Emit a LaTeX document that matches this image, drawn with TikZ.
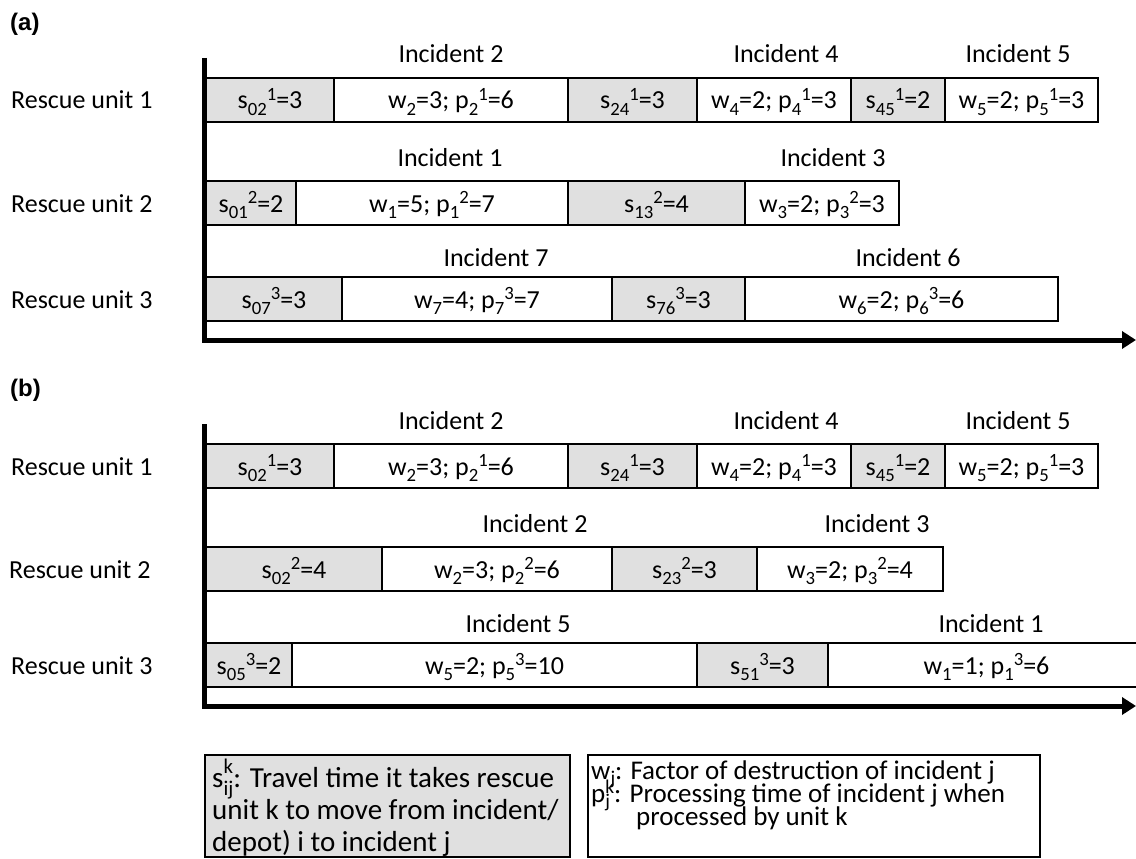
\documentclass[tikz,border=0pt]{standalone}
\usepackage{fontspec}
\setmainfont{Carlito}
\newfontfamily\labfont{Liberation Sans}
\usetikzlibrary{arrows.meta}
\definecolor{sgray}{HTML}{E0E0E0}
\makeatletter
\newcommand\idxsz{\fontsize{\fpeval{0.72*\f@size}}{0}\selectfont}
\makeatother
\newcommand\mainsz{\fontsize{26}{30}\selectfont}
\newcommand\legsz{\fontsize{29}{32}\selectfont}
\newcommand\legbsz{\fontsize{27}{23}\selectfont}
\newcommand\ssub[1]{\raisebox{-0.24em}{\idxsz #1}}
\newcommand\ssup[1]{\raisebox{0.34em}{\idxsz #1}}
\newcommand\tsub[1]{\raisebox{-0.3em}{\idxsz #1}}
\newcommand\tsup[1]{\raisebox{0.46em}{\idxsz #1}}
\newcommand\rsub[1]{\raisebox{-0.2em}{\idxsz #1}}
\newcommand\rsup[1]{\raisebox{0.3em}{\idxsz #1}}
\newsavebox\subbx
\newsavebox\supbx
\newcommand\stackit{\ifdim\wd\subbx>\wd\supbx \rlap{\usebox\supbx}\usebox\subbx
  \else \rlap{\usebox\subbx}\usebox\supbx\fi}
\newcommand\sstack[2]{\sbox\subbx{\tsub{#1}}\sbox\supbx{\tsup{#2}}\stackit}
\newcommand\rstack[2]{\sbox\subbx{\rsub{#1}}\sbox\supbx{\rsup{#2}}\stackit}
\newcommand\seg[6]{\node[#1, minimum width={(#4-#3)*1pt}] (#2) at ({(#3+#4)/2},#5) {#6};}
\begin{document}
\begin{tikzpicture}[x=1pt,y=-1pt,
  seg/.style={draw=black, line width=2.4pt, minimum height=44pt, inner sep=0pt, outer sep=0pt,
    font=\mainsz, text height=20pt, text depth=2pt},
  sseg/.style={seg, fill=sgray},
  wseg/.style={seg, fill=white},
  inclab/.style={font=\mainsz, inner sep=0pt, anchor=base},
  unitlab/.style={font=\mainsz, inner sep=0pt, anchor=base west},
  panlab/.style={font=\labfont\bfseries\fontsize{24}{28}\selectfont, inner sep=0pt, anchor=west},
  axisline/.style={line width=5pt, line join=miter, -{Triangle[length=14pt,width=17pt]}},
  legbox/.style={draw=black, line width=2.4pt, inner sep=0pt, outer sep=0pt},
  legtxt/.style={inner sep=0pt, anchor=base west},
  legA/.style={legtxt, font=\legsz, text height=20pt, text depth=6pt},
  legB/.style={legtxt, font=\legbsz, text height=15pt, text depth=4pt},
]
\useasboundingbox (0,0) rectangle (1136,859);
\fill[white] (0,0) rectangle (1136,859);

% ---------- panel (a)
\node[panlab] (pa) at (10,24) {(a)};
\node[unitlab] (ua1) at (11,109) {Rescue unit 1};
\node[unitlab] (ua2) at (11,212) {Rescue unit 2};
\node[unitlab] (ua3) at (11,308) {Rescue unit 3};

\coordinate (aytop) at (204,58);
\coordinate (axend) at (1136,340);
\draw[axisline] (aytop) |- (axend);

\seg{sseg}{a11}{206}{334}{100}{s\ssub{02}\ssup{1}=3}
\seg{wseg}{a12}{334}{568}{100}{w\ssub{2}=3; p\ssub{2}\ssup{1}=6}
\seg{sseg}{a13}{568}{697}{100}{s\ssub{24}\ssup{1}=3}
\seg{wseg}{a14}{697}{851}{100}{w\ssub{4}=2; p\ssub{4}\ssup{1}=3}
\seg{sseg}{a15}{851}{945}{100}{s\ssub{45}\ssup{1}=2}
\seg{wseg}{a16}{945}{1098}{100}{w\ssub{5}=2; p\ssub{5}\ssup{1}=3}

\seg{sseg}{a21}{206}{296}{203}{s\ssub{01}\ssup{2}=2}
\seg{wseg}{a22}{296}{568}{203}{w\ssub{1}=5; p\ssub{1}\ssup{2}=7}
\seg{sseg}{a23}{568}{745}{203}{s\ssub{13}\ssup{2}=4}
\seg{wseg}{a24}{745}{899}{203}{w\ssub{3}=2; p\ssub{3}\ssup{2}=3}

\seg{sseg}{a31}{206}{342}{299}{s\ssub{07}\ssup{3}=3}
\seg{wseg}{a32}{342}{612}{299}{w\ssub{7}=4; p\ssub{7}\ssup{3}=7}
\seg{sseg}{a33}{612}{745}{299}{s\ssub{76}\ssup{3}=3}
\seg{wseg}{a34}{745}{1058}{299}{w\ssub{6}=2; p\ssub{6}\ssup{3}=6}

\node[inclab] (ia2) at (451,63) {Incident 2};
\node[inclab] (ia4) at (786,63) {Incident 4};
\node[inclab] (ia5) at (1018,63) {Incident 5};
\node[inclab] (ia1) at (450,166) {Incident 1};
\node[inclab] (ia3) at (833,166) {Incident 3};
\node[inclab] (ia7) at (496,266) {Incident 7};
\node[inclab] (ia6) at (908,266) {Incident 6};

% ---------- panel (b)
\node[panlab] (pb) at (10,390) {(b)};
\node[unitlab] (ub1) at (11,475) {Rescue unit 1};
\node[unitlab] (ub2) at (9,578) {Rescue unit 2};
\node[unitlab] (ub3) at (11,674) {Rescue unit 3};

\coordinate (bytop) at (204,424);
\coordinate (bxend) at (1136,706);
\draw[axisline] (bytop) |- (bxend);

\seg{sseg}{b11}{206}{334}{466}{s\ssub{02}\ssup{1}=3}
\seg{wseg}{b12}{334}{568}{466}{w\ssub{2}=3; p\ssub{2}\ssup{1}=6}
\seg{sseg}{b13}{568}{697}{466}{s\ssub{24}\ssup{1}=3}
\seg{wseg}{b14}{697}{851}{466}{w\ssub{4}=2; p\ssub{4}\ssup{1}=3}
\seg{sseg}{b15}{851}{945}{466}{s\ssub{45}\ssup{1}=2}
\seg{wseg}{b16}{945}{1098}{466}{w\ssub{5}=2; p\ssub{5}\ssup{1}=3}

\seg{sseg}{b21}{206}{382}{569}{s\ssub{02}\ssup{2}=4}
\seg{wseg}{b22}{382}{612}{569}{w\ssub{2}=3; p\ssub{2}\ssup{2}=6}
\seg{sseg}{b23}{612}{757}{569}{s\ssub{23}\ssup{2}=3}
\seg{wseg}{b24}{757}{943}{569}{w\ssub{3}=2; p\ssub{3}\ssup{2}=4}

\seg{sseg}{b31}{206}{292}{665}{s\ssub{05}\ssup{3}=2}
\seg{wseg}{b32}{292}{697}{665}{w\ssub{5}=2; p\ssub{5}\ssup{3}=10}
\seg{sseg}{b33}{697}{828}{665}{s\ssub{51}\ssup{3}=3}
\seg{wseg}{b34}{828}{1145}{665}{w\ssub{1}=1; p\ssub{1}\ssup{3}=6}

\node[inclab] (ib2) at (451,429) {Incident 2};
\node[inclab] (ib4) at (786,429) {Incident 4};
\node[inclab] (ib5) at (1018,429) {Incident 5};
\node[inclab] (ib2b) at (535,532) {Incident 2};
\node[inclab] (ib3) at (877,532) {Incident 3};
\node[inclab] (ib5b) at (518,632) {Incident 5};
\node[inclab] (ib1) at (991,632) {Incident 1};

% ---------- legend
\node[legbox, fill=sgray, minimum width=365pt, minimum height=102pt] (legs) at (387.5,806) {};
\node[legA] (ls1) at (212,787) {s\sstack{ij}{k}: Travel time it takes rescue};
\node[legA] (ls2) at (212,819) {unit k to move from incident/};
\node[legA] (ls3) at (212,851) {depot) i to incident j};

\node[legbox, fill=white, minimum width=452pt, minimum height=102pt] (legw) at (814,806) {};
\node[legB] (lw1) at (591,779) {w\rsub{j}: Factor of destruction of incident j};
\node[legB] (lw2) at (591,802) {p\rstack{j}{k}: Processing time of incident j when};
\node[legB] (lw3) at (636,825) {processed by unit k};
\end{tikzpicture}
\end{document}
